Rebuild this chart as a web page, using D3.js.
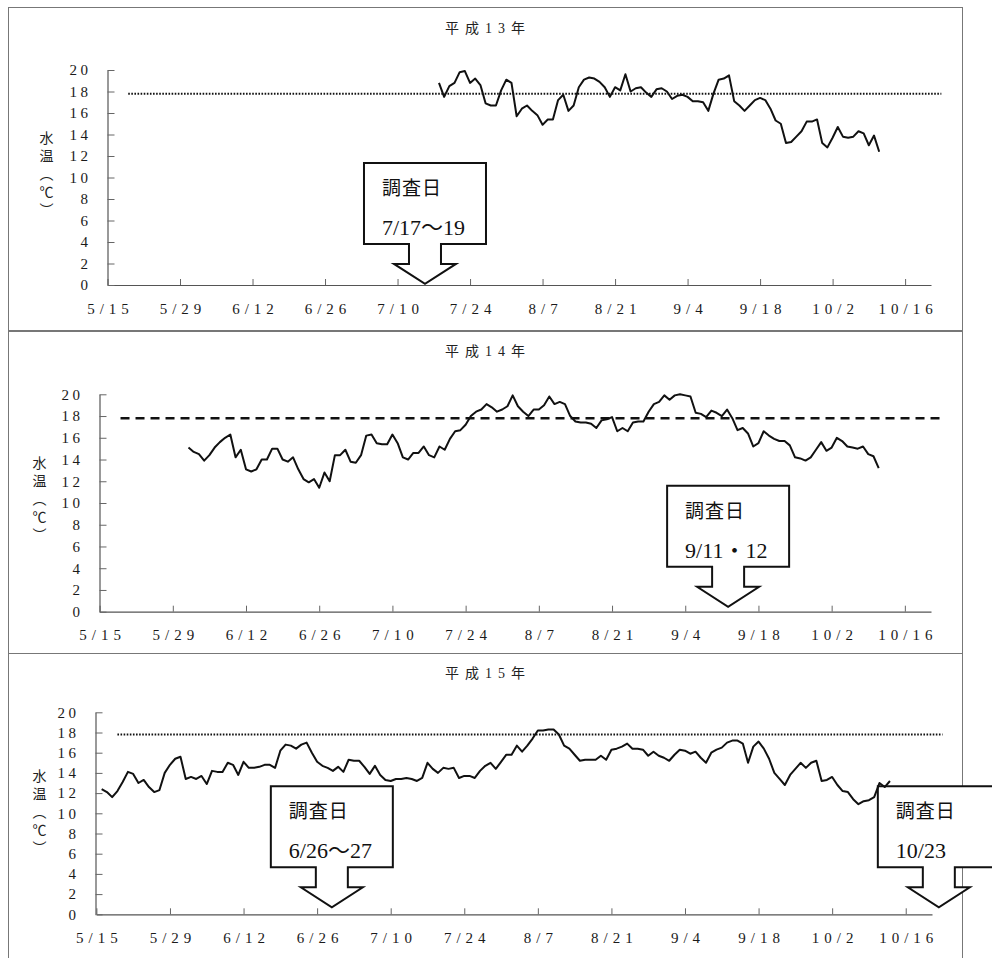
<!DOCTYPE html>
<html>
<head>
<meta charset="utf-8">
<script src="https://cdn.jsdelivr.net/npm/d3@7"></script>
<style>
  body { margin: 0; background: #fff; }
  svg { display: block; }
</style>
</head>
<body>
<svg></svg>
<script>
//Data
const xTickDays = [0, 14, 28, 42, 56, 70, 84, 98, 112, 126, 140, 154];
const xTickLabels = ["5/15", "5/29", "6/12", "6/26", "7/10", "7/24", "8/7", "8/21", "9/4", "9/18", "10/2", "10/16"];
const yTicks = [0, 2, 4, 6, 8, 10, 12, 14, 16, 18, 20];
const titles = ["平成13年", "平成14年", "平成15年"];
const yTitle = "水温（℃）";

// reference temperature line (days counted from 5/15)
const refTemp = 17.8, refStart = 4, refEnd = 161;

// daily water temperature, first value at startDay
const start2001 = 64;
const temp2001 = [18.8,17.5,18.5,18.8,19.8,19.9,18.8,19.2,18.6,16.9,
  16.7,16.7,18.1,19.1,18.8,15.7,16.4,16.7,16.2,15.8,
  14.9,15.4,15.4,17.2,17.7,16.2,16.7,18.4,19.1,19.3,
  19.2,18.9,18.4,17.5,18.4,18.1,19.6,18.0,18.3,18.4,
  17.9,17.5,18.2,18.3,18.0,17.3,17.6,17.7,17.5,17.1,
  17.1,17.0,16.2,17.8,19.1,19.2,19.5,17.1,16.7,16.2,
  16.7,17.2,17.4,17.2,16.4,15.3,15.0,13.2,13.3,13.8,
  14.3,15.2,15.2,15.4,13.2,12.8,13.7,14.7,13.8,13.7,
  13.8,14.3,14.1,13.0,13.9,12.4];

const start2002 = 17;
const temp2002 = [15.1,14.7,14.5,13.9,14.4,15.1,15.6,16.0,16.3,14.2,
  14.9,13.1,12.9,13.1,14.0,14.0,15.0,15.0,14.0,13.8,
  14.2,13.1,12.2,11.9,12.2,11.4,12.8,12.0,14.4,14.4,
  14.9,13.8,13.7,14.4,16.2,16.3,15.5,15.4,15.4,16.3,
  15.5,14.2,14.0,14.6,14.6,15.2,14.4,14.2,15.2,14.9,
  15.9,16.6,16.7,17.2,18.0,18.4,18.6,19.1,18.8,18.4,
  18.6,18.9,19.9,18.9,18.4,18.0,18.6,18.6,19.0,19.8,
  19.1,19.3,19.1,18.0,17.5,17.4,17.4,17.3,16.9,17.6,
  17.7,17.9,16.6,16.9,16.6,17.4,17.5,17.5,18.4,19.1,
  19.3,19.9,19.5,19.9,20.0,19.9,19.8,18.3,18.2,17.9,
  18.5,18.3,18.0,18.6,17.8,16.7,16.9,16.4,15.2,15.5,
  16.6,16.2,15.9,15.7,15.7,15.3,14.2,14.1,13.9,14.2,
  14.9,15.6,14.8,15.1,16.0,15.7,15.2,15.1,15.0,15.2,
  14.5,14.3,13.2];

const start2003 = 1;
const temp2003 = [12.4,12.1,11.6,12.2,13.1,14.1,13.9,13.0,13.3,12.6,
  12.1,12.3,14.0,14.8,15.4,15.6,13.4,13.6,13.4,13.7,
  12.9,14.2,14.1,14.1,15.0,14.8,13.8,15.1,14.5,14.5,
  14.6,14.8,14.8,14.5,16.2,16.8,16.7,16.4,16.8,17.0,
  16.0,15.1,14.7,14.5,14.2,14.6,14.1,15.3,15.2,15.2,
  14.6,13.9,14.7,13.8,13.3,13.2,13.4,13.4,13.5,13.4,
  13.2,13.5,15.0,14.4,14.0,14.5,14.4,14.5,13.5,13.7,
  13.7,13.5,14.2,14.7,15.0,14.4,15.1,15.8,
  15.8,16.7,16.1,16.7,17.4,18.2,18.2,18.3,18.3,17.8,
  16.7,16.4,15.8,15.2,15.3,15.3,15.3,15.7,15.3,16.3,
  16.4,16.6,16.9,16.4,16.4,16.3,15.7,16.1,15.7,15.5,
  15.2,15.8,16.3,16.2,15.9,16.1,15.5,15.0,16.0,16.3,
  16.5,17.0,17.2,17.2,16.9,15.0,16.6,17.1,16.4,15.4,
  14.0,13.4,12.8,13.8,14.4,15.0,14.5,15.0,15.2,13.2,
  13.3,13.6,12.8,12.2,12.1,11.4,10.9,11.2,11.3,11.6,
  13.0,12.6,13.2];

// survey-day callouts: arrow tip at (day, value)
const callouts2001 = [{day: 61.3, value: 0.1, label: "7/17～19"}];
const callouts2002 = [{day: 120.2, value: 0.45, label: "9/11・12"}];
const callouts2003 = [{day: 44.8, value: 0.7, label: "6/26～27"}, {day: 160.3, value: 0.7, label: "10/23"}];

//Layout
const width = 992, height = 958;
const serif = "'Liberation Serif','Noto Sans CJK JP',serif";
const cjk = "'Noto Sans CJK JP',sans-serif";

const panels = [
  {box: [8, 7, 954, 323], titleY: 33, x0: 107.5, x1: 931, y0: 285, y20: 70, ref: "1.6,1.5", refW: 2, yt: 61,
   start: start2001, temps: temp2001, callouts: callouts2001, title: titles[0]},
  {box: [8, 331, 954, 322], titleY: 356, x0: 99.6, x1: 931, y0: 611.7, y20: 394.3, ref: "9,6", refW: 2.5, yt: 60,
   start: start2002, temps: temp2002, callouts: callouts2002, title: titles[1]},
  {box: [8, 653, 954, 310], titleY: 678, x0: 96.4, x1: 932, y0: 914.3, y20: 712.3, ref: "1.6,1.5", refW: 2, yt: 57,
   start: start2003, temps: temp2003, callouts: callouts2003, title: titles[2]}
];

const svg = d3.select("svg").attr("width", width).attr("height", height);
svg.append("rect").attr("width", width).attr("height", height).attr("fill", "#fff");

panels.forEach(p => {
  const g = svg.append("g");

  //Panel frame
  g.append("rect")
    .attr("x", p.box[0] + 0.5).attr("y", p.box[1] + 0.5)
    .attr("width", p.box[2]).attr("height", p.box[3])
    .attr("fill", "none").attr("stroke", "#777").attr("stroke-width", 1);

  const x = d3.scaleLinear().domain([0, 159]).range([p.x0, p.x1]);
  const y = d3.scaleLinear().domain([0, 20]).range([p.y0, p.y20]);

  //Title
  g.append("text")
    .attr("x", 488).attr("y", p.titleY)
    .attr("text-anchor", "middle")
    .style("font-family", serif).style("font-size", "14px")
    .style("letter-spacing", "6px")
    .attr("fill", "#222")
    .text(p.title);

  //Axes
  const xAxis = d3.axisBottom(x)
    .tickValues(xTickDays)
    .tickFormat((d, i) => xTickLabels[i])
    .tickSize(-6).tickSizeOuter(0).tickPadding(18);
  const gx = g.append("g").attr("transform", `translate(0,${p.y0})`).call(xAxis);

  const yAxis = d3.axisLeft(y)
    .tickValues(yTicks)
    .tickSize(-7).tickSizeOuter(0).tickPadding(16);
  const gy = g.append("g").attr("transform", `translate(${Math.round(p.x0) - 0.5},0)`).call(yAxis);

  [gx, gy].forEach(a => {
    a.attr("font-family", serif).attr("font-size", 15);
    a.select(".domain").attr("stroke", "#555").attr("stroke-width", 1.2);
    a.selectAll(".tick line").attr("stroke", "#666");
    a.selectAll(".tick text").attr("fill", "#1a1a1a");
  });
  gx.selectAll(".tick text").style("letter-spacing", "5px").attr("dx", "2.5");
  gy.selectAll(".tick text").style("letter-spacing", "3.5px");

  //Y axis title (vertical)
  g.append("text")
    .attr("x", p.x0 - p.yt)
    .attr("y", y(13.6) - 8)
    .style("writing-mode", "vertical-rl")
    .style("font-family", cjk).style("font-size", "14px")
    .style("letter-spacing", "4px")
    .attr("fill", "#222")
    .text(yTitle);

  //Reference line
  g.append("line")
    .attr("x1", x(refStart)).attr("x2", x(refEnd))
    .attr("y1", y(refTemp)).attr("y2", y(refTemp))
    .attr("stroke", "#111").attr("stroke-width", p.refW)
    .attr("stroke-dasharray", p.ref);

  //Callouts
  const co = g.append("g").selectAll("g")
    .data(p.callouts)
    .join("g")
    .attr("transform", d => `translate(${x(d.day)},${y(d.value)})`);

  co.append("path")
    .attr("d", "M-61,-121H61V-40H16V-20H31L0,0L-31,-20H-16V-40H-61Z")
    .attr("fill", "#fff").attr("stroke", "#111").attr("stroke-width", 2)
    .attr("stroke-linejoin", "miter");

  co.append("text")
    .attr("x", -43).attr("y", -89)
    .style("font-family", cjk).style("font-size", "19px")
    .style("letter-spacing", "1px")
    .attr("fill", "#111")
    .text("調査日");

  co.append("text")
    .attr("x", -43).attr("y", -49)
    .style("font-family", serif).style("font-size", "22px")
    .attr("fill", "#111")
    .text(d => d.label);

  //Temperature line
  const pts = p.temps.map((v, i) => ({day: p.start + i, value: v}));
  const line = d3.line().x(d => x(d.day)).y(d => y(d.value));
  g.append("path")
    .datum(pts)
    .attr("d", line)
    .attr("fill", "none")
    .attr("stroke", "#111")
    .attr("stroke-width", 2)
    .attr("stroke-linejoin", "round");
});
</script>
</body>
</html>
